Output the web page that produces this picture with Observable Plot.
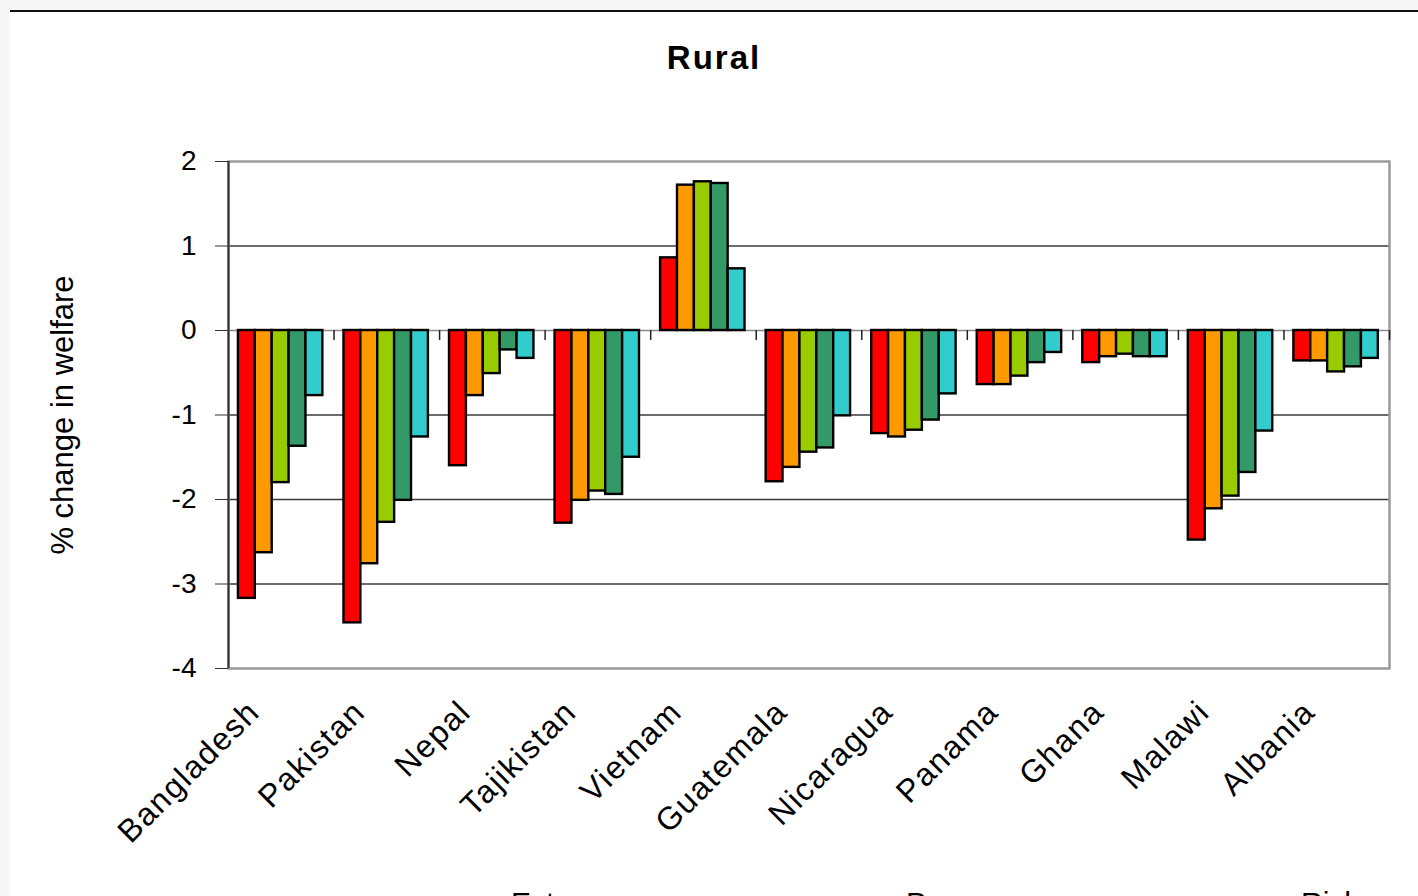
<!DOCTYPE html>
<html>
<head>
<meta charset="utf-8">
<script src="https://cdn.jsdelivr.net/npm/d3@7"></script>
<script src="https://cdn.jsdelivr.net/npm/@observablehq/plot@0.6"></script>
<style>
  html, body { margin: 0; padding: 0; background: #f7f7f7; overflow: hidden; }
  body { width: 1418px; height: 896px; position: relative; font-family: "Liberation Sans", Arial, Helvetica, sans-serif; }
  #page {
    position: absolute; left: 10px; top: 10px; width: 1408px; height: 886px;
    background: #fff; border-top: 2px solid #111; box-sizing: border-box; overflow: hidden;
  }
  #title {
    height: 88px; box-sizing: border-box; padding-top: 29px;
    text-align: center; font-weight: bold; font-size: 33px; line-height: 1;
    letter-spacing: 2px; color: #000;
  }
  #chart svg { display: block; }
  #chart g[aria-label="x-axis tick label"] text { letter-spacing: 1.6px; }
  .legend-row { position: relative; height: 40px; white-space: nowrap; margin-left: 471px; }
  .legend-item { display: inline-flex; align-items: center; width: 395px; font-size: 30px; line-height: 1; color: #000; }
  .swatch { width: 14px; height: 14px; border: 1.5px solid #000; margin-right: 14px; margin-top: 14px; flex: none; }
  #legend { margin-top: 28px; }
</style>
</head>
<body>
<div id="page">
  <div id="title">Rural</div>
  <div id="chart"></div>
  <div id="legend"></div>
</div>
<script>
// Countries along the category axis
const countries = ["Bangladesh", "Pakistan", "Nepal", "Tajikistan", "Vietnam", "Guatemala",
                   "Nicaragua", "Panama", "Ghana", "Malawi", "Albania"];

// Household groups (bar order inside each country) and their fills
const groups = ["Extreme poor", "Poor", "Rich", "Middle", "All"];
const groupColors = ["#ff0000", "#ff9900", "#99cc00", "#339966", "#33cccc"];

// % change in welfare, one array per group, in country order
const extremePoor = [-3.17, -3.46, -1.60, -2.28, 0.86, -1.79, -1.22, -0.64, -0.38, -2.48, -0.36];
const poor        = [-2.63, -2.76, -0.77, -2.01, 1.72, -1.62, -1.26, -0.64, -0.31, -2.11, -0.36];
const rich        = [-1.80, -2.27, -0.51, -1.90, 1.76, -1.44, -1.18, -0.54, -0.28, -1.96, -0.49];
const middle      = [-1.37, -2.01, -0.23, -1.94, 1.74, -1.39, -1.06, -0.38, -0.31, -1.68, -0.43];
const all         = [-0.77, -1.26, -0.33, -1.50, 0.73, -1.01, -0.75, -0.26, -0.31, -1.19, -0.33];

// Value axis ticks
const yTicks = [-4, -3, -2, -1, 0, 1, 2];

const seriesValues = [extremePoor, poor, rich, middle, all];

// Each country occupies one unit on x; bars are laid out inside it by a band scale
const inner = d3.scaleBand(groups, [0, 1]).paddingInner(0).paddingOuter(0.625).align(0.47);

const rows = countries.flatMap((country, i) =>
  groups.map((g, j) => ({
    country,
    group: g,
    value: seriesValues[j][i],
    x1: i + inner(g),
    x2: i + inner(g) + inner.bandwidth()
  }))
);

const centers = countries.map((_, i) => i + 0.5);
const boundaries = d3.range(1, countries.length + 1);

const chart = Plot.plot({
  width: 1408,
  height: 760,
  marginTop: 61,
  marginBottom: 192,
  marginLeft: 218,
  marginRight: 29,
  style: { fontFamily: "'Liberation Sans', Arial, Helvetica, sans-serif", background: "transparent", color: "#000" },
  x: { domain: [0, countries.length], axis: null },
  y: { domain: [-4, 2], axis: null },
  color: { domain: groups, range: groupColors },
  marks: [
    Plot.gridY([-3, -2, -1, 1], { stroke: "#3a3a3a", strokeOpacity: 1, strokeWidth: 1.4 }),
    Plot.ruleY([0], { stroke: "#8a8a8a", strokeWidth: 1.6 }),
    Plot.frame({ stroke: "#9a9a9a", strokeWidth: 2.5 }),
    Plot.ruleX([0], { stroke: "#333", strokeWidth: 2 }),
    // category tick marks hanging below the zero line
    Plot.ruleX(boundaries, { y1: 0, y2: 0, insetBottom: -10, stroke: "#222", strokeWidth: 1.5 }),
    Plot.axisY(yTicks, {
      tickSize: 13, tickPadding: 19, fontSize: 28, stroke: "#333",
      tickFormat: d => String(d), label: null
    }),
    Plot.rect(rows, {
      x1: "x1", x2: "x2", y1: 0, y2: "value",
      fill: "group", stroke: "#000", strokeWidth: 2.4
    }),
    Plot.axisX(centers, {
      tickFormat: d => countries[Math.floor(d)],
      tickRotate: -45, tickSize: 0, tickPadding: 38, fontSize: 32, dx: -27, label: null
    }),
    Plot.text(["% change in welfare"], {
      frameAnchor: "left", textAnchor: "middle", rotate: -90, dx: -165, fontSize: 31, fill: "#000"
    })
  ]
});
document.getElementById("chart").append(chart);

// Legend: three entries per row
const legend = document.getElementById("legend");
[[0, 1, 2], [3, 4]].forEach(idxs => {
  const row = document.createElement("div");
  row.className = "legend-row";
  idxs.forEach(k => {
    const item = document.createElement("span");
    item.className = "legend-item";
    const sw = document.createElement("span");
    sw.className = "swatch";
    sw.style.background = groupColors[k];
    const label = document.createElement("span");
    label.textContent = groups[k];
    item.append(sw, label);
    row.append(item);
  });
  legend.append(row);
});
</script>
</body>
</html>
